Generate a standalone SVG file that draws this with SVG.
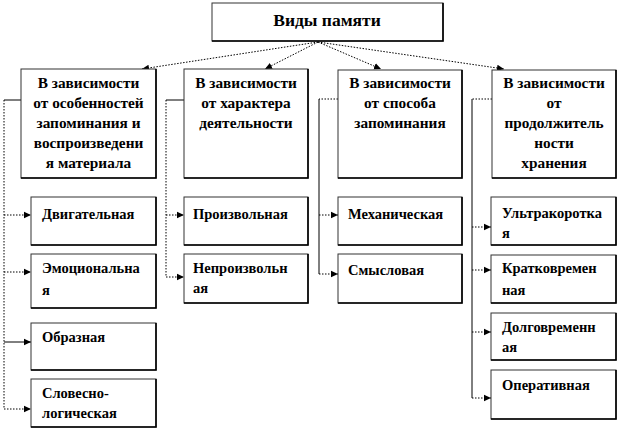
<svg xmlns="http://www.w3.org/2000/svg" width="619" height="431" viewBox="0 0 619 431" font-family="'Liberation Serif', 'DejaVu Serif', serif">
<defs>
<style>
.box{fill:#fff;stroke:#333;stroke-width:1}
.sh{fill:none;stroke:#000;stroke-width:1.6}
.t{font-family:'Liberation Serif','DejaVu Serif',serif;font-weight:bold;font-size:14.5px;fill:#000}
.k{font-size:15.3px}
.c{text-anchor:middle}
.dot{fill:none;stroke:#000;stroke-width:1;stroke-dasharray:1.5,1.5}
.sol{fill:none;stroke:#000;stroke-width:1}
</style>
<marker id="ah" markerUnits="userSpaceOnUse" markerWidth="8" markerHeight="8" refX="7" refY="4" orient="auto">
<path d="M0,0.8 L7,4 L0,7.2 Z" fill="#000"/>
</marker>
</defs>
<rect width="619" height="431" fill="#fff"/>

<g id="connectors">
<path class="dot" d="M318,42 L142,69" marker-end="url(#ah)"/>
<path class="dot" d="M318,42 L265,69" marker-end="url(#ah)"/>
<path class="dot" d="M318,42 L381,69" marker-end="url(#ah)"/>
<path class="dot" d="M318,42 L504,69" marker-end="url(#ah)"/>

<path class="sol" d="M21,100 L4,100"/>
<path class="dot" d="M4,100 L4,409"/>
<path class="dot" d="M4,215 L31,215" marker-end="url(#ah)"/>
<path class="dot" d="M4,272 L31,272" marker-end="url(#ah)"/>
<path class="sol" d="M4,342 L31,342" marker-end="url(#ah)"/>
<path class="dot" d="M4,409 L31,409" marker-end="url(#ah)"/>

<path class="sol" d="M184,100 L166,100"/>
<path class="dot" d="M166,100 L166,277"/>
<path class="dot" d="M166,215 L184,215" marker-end="url(#ah)"/>
<path class="dot" d="M166,277 L184,277" marker-end="url(#ah)"/>

<path class="dot" d="M338,99 L319,99"/>
<path class="sol" d="M319,99 L319,274"/>
<path class="dot" d="M319,215 L338,215" marker-end="url(#ah)"/>
<path class="dot" d="M319,274 L338,274" marker-end="url(#ah)"/>

<path class="dot" d="M492,99 L472,99"/>
<path class="sol" d="M472,99 L472,398"/>
<path class="dot" d="M472,227 L491,227" marker-end="url(#ah)"/>
<path class="dot" d="M472,270 L491,270" marker-end="url(#ah)"/>
<path class="dot" d="M472,332 L491,332" marker-end="url(#ah)"/>
<path class="dot" d="M472,398 L491,398" marker-end="url(#ah)"/>
</g>

<g id="root">
<rect class="box" x="212" y="3" width="231" height="38"/>
<path class="sh" d="M443,3 L443,41 L212,41"/>
<text class="t c" x="327" y="26" style="font-size:17.5px">Виды памяти</text>
</g>

<g id="cat1">
<rect class="box" x="21" y="69" width="135" height="109"/>
<path class="sh" d="M156,69 L156,178 L21,178"/>
<text class="t k c" x="88.5" y="88">В зависимости</text>
<text class="t k c" x="88.5" y="108">от особенностей</text>
<text class="t k c" x="88.5" y="128">запоминания и</text>
<text class="t k c" x="88.5" y="148">воспроизведени</text>
<text class="t k c" x="88.5" y="168">я материала</text>
</g>
<g id="cat2">
<rect class="box" x="184" y="69" width="124" height="109"/>
<path class="sh" d="M308,69 L308,178 L184,178"/>
<text class="t k c" x="246" y="88">В зависимости</text>
<text class="t k c" x="246" y="108">от характера</text>
<text class="t k c" x="246" y="128">деятельности</text>
</g>
<g id="cat3">
<rect class="box" x="338" y="70" width="124" height="108"/>
<path class="sh" d="M462,70 L462,178 L338,178"/>
<text class="t k c" x="400" y="88">В зависимости</text>
<text class="t k c" x="400" y="108">от способа</text>
<text class="t k c" x="400" y="128">запоминания</text>
</g>
<g id="cat4">
<rect class="box" x="492" y="70" width="124" height="108"/>
<path class="sh" d="M616,70 L616,178 L492,178"/>
<text class="t k c" x="554" y="88">В зависимости</text>
<text class="t k c" x="554" y="108">от</text>
<text class="t k c" x="554" y="128">продолжитель</text>
<text class="t k c" x="554" y="148">ности</text>
<text class="t k c" x="554" y="168">хранения</text>
</g>

<g id="n-dvig">
<rect class="box" x="31" y="197" width="125" height="48"/>
<path class="sh" d="M156,197 L156,245 L31,245"/>
<text class="t" x="42" y="219">Двигательная</text>
</g>
<g id="n-emoc">
<rect class="box" x="31" y="254" width="125" height="54"/>
<path class="sh" d="M156,254 L156,308 L31,308"/>
<text class="t" x="42" y="273">Эмоциональна</text>
<text class="t" x="42" y="295">я</text>
</g>
<g id="n-obr">
<rect class="box" x="31" y="323" width="125" height="47"/>
<path class="sh" d="M156,323 L156,370 L31,370"/>
<text class="t" x="42" y="342">Образная</text>
</g>
<g id="n-slov">
<rect class="box" x="31" y="379" width="125" height="48"/>
<path class="sh" d="M156,379 L156,427 L31,427"/>
<text class="t" x="42" y="398">Словесно-</text>
<text class="t" x="42" y="418">логическая</text>
</g>

<g id="n-proiz">
<rect class="box" x="184" y="197" width="124" height="48"/>
<path class="sh" d="M308,197 L308,245 L184,245"/>
<text class="t" x="193" y="219">Произвольная</text>
</g>
<g id="n-neproiz">
<rect class="box" x="184" y="254" width="124" height="49"/>
<path class="sh" d="M308,254 L308,303 L184,303"/>
<text class="t" x="193" y="273">Непроизвольн</text>
<text class="t" x="193" y="293">ая</text>
</g>

<g id="n-mech">
<rect class="box" x="338" y="197" width="124" height="48"/>
<path class="sh" d="M462,197 L462,245 L338,245"/>
<text class="t" x="348" y="219">Механическая</text>
</g>
<g id="n-smysl">
<rect class="box" x="338" y="254" width="124" height="49"/>
<path class="sh" d="M462,254 L462,303 L338,303"/>
<text class="t" x="348" y="275">Смысловая</text>
</g>

<g id="n-ultra">
<rect class="box" x="491" y="197" width="125" height="48"/>
<path class="sh" d="M616,197 L616,245 L491,245"/>
<text class="t" x="502" y="218">Ультракоротка</text>
<text class="t" x="502" y="238">я</text>
</g>
<g id="n-krat">
<rect class="box" x="491" y="255" width="125" height="48"/>
<path class="sh" d="M616,255 L616,303 L491,303"/>
<text class="t" x="502" y="273">Кратковремен</text>
<text class="t" x="502" y="295">ная</text>
</g>
<g id="n-dolg">
<rect class="box" x="491" y="313" width="125" height="47"/>
<path class="sh" d="M616,313 L616,360 L491,360"/>
<text class="t" x="502" y="332">Долговременн</text>
<text class="t" x="502" y="352">ая</text>
</g>
<g id="n-oper">
<rect class="box" x="491" y="370" width="125" height="49"/>
<path class="sh" d="M616,370 L616,419 L491,419"/>
<text class="t" x="502" y="390">Оперативная</text>
</g>
</svg>
